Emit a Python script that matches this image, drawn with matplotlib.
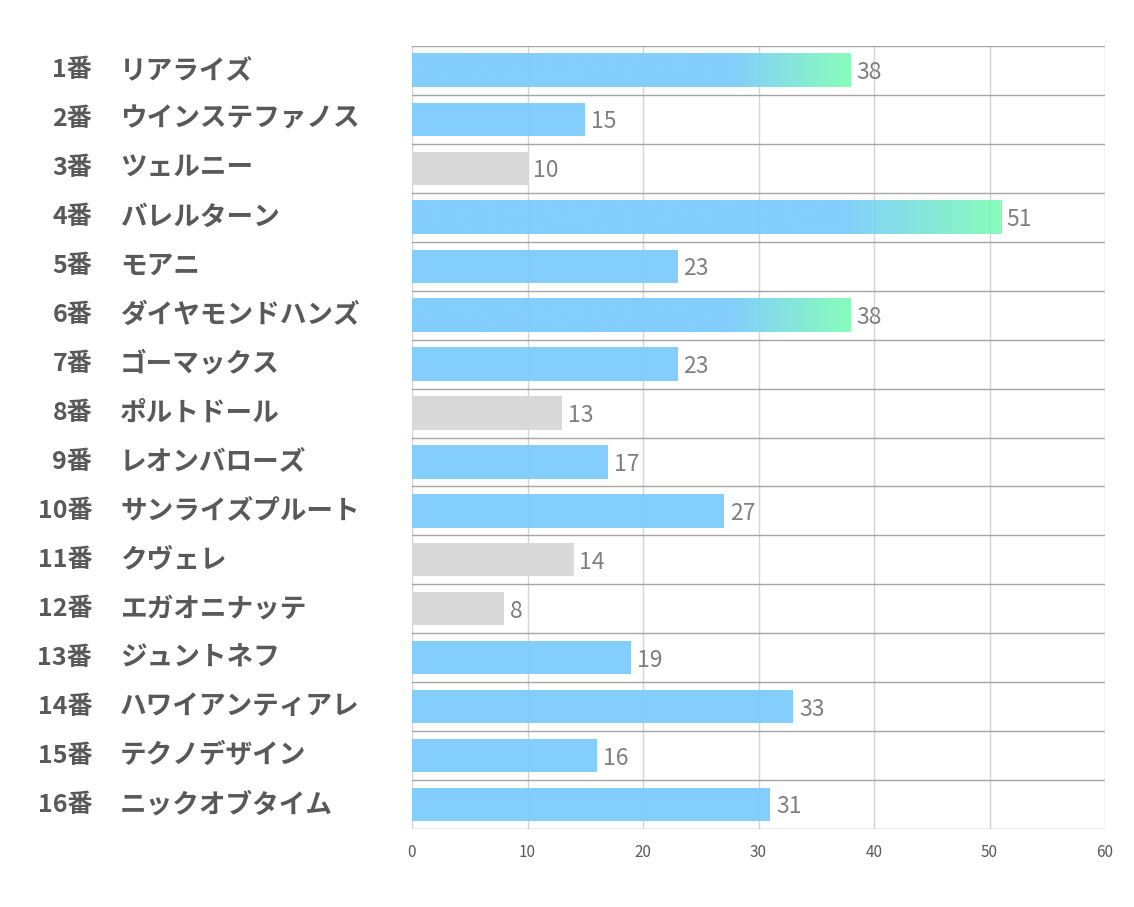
import matplotlib
matplotlib.use("Agg")
import matplotlib.pyplot as plt
import numpy as np
from matplotlib.colors import to_rgb
from matplotlib.transforms import blended_transform_factory

plt.rcParams['font.family'] = ['Noto Sans CJK JP', 'DejaVu Sans']

numbers = ["1番", "2番", "3番", "4番", "5番", "6番", "7番", "8番",
           "9番", "10番", "11番", "12番", "13番", "14番", "15番", "16番"]
names = ["リアライズ", "ウインステファノス", "ツェルニー", "バレルターン", "モアニ",
         "ダイヤモンドハンズ", "ゴーマックス", "ポルトドール", "レオンバローズ",
         "サンライズプルート", "クヴェレ", "エガオニナッテ", "ジュントネフ",
         "ハワイアンティアレ", "テクノデザイン", "ニックオブタイム"]
values = [38, 15, 10, 51, 23, 38, 23, 13, 17, 27, 14, 8, 19, 33, 16, 31]
groups = ["top", "mid", "low", "top", "mid", "top", "mid", "low",
          "mid", "mid", "low", "low", "mid", "mid", "mid", "mid"]
xticks = [0, 10, 20, 30, 40, 50, 60]

BLUE = "#7ACBFD"
GREEN = "#7FFDB6"
GRAY = "#D9D9D9"
BAR_H = 0.68

fig = plt.figure(figsize=(11.34, 9.07), dpi=100)
ax = fig.add_axes([412/1134, 1-829/907, (1105-412)/1134, (829-46)/907])

n = len(values)
ypos = np.arange(n)

for y, v, g in zip(ypos, values, groups):
    if g == "top":
        N = 256
        t = np.linspace(0, 1, N)
        w = np.clip((t-0.73)/0.27, 0, 1)
        b = np.array(to_rgb(BLUE)); gr = np.array(to_rgb(GREEN))
        cols = (1-w)[:, None]*b + w[:, None]*gr
        img = cols[None, :, :]
        ax.imshow(img, extent=(0, v, y+BAR_H/2, y-BAR_H/2), aspect='auto',
                  interpolation='bilinear', zorder=3, alpha=0.93)
    else:
        ax.barh(y, v, height=BAR_H, color=BLUE if g == "mid" else GRAY,
                zorder=3, alpha=0.93 if g == "mid" else 1.0)
    ax.text(v + 0.5, y + 0.05, str(v), va='center', ha='left', fontsize=16.5,
            color='#7F7F7F', zorder=4)

ax.set_xlim(0, 60)
ax.set_ylim(n-0.5, -0.5)
ax.set_aspect('auto')

ax.set_xticks(xticks)
ax.set_xticklabels([str(x) for x in xticks], fontsize=11, color='#595959')
ax.set_yticks([])
ax.set_yticks(np.arange(-0.5, n), minor=True)
ax.tick_params(axis='both', which='both', length=0)
ax.tick_params(axis='x', pad=11)
ax.grid(axis='x', color='#D4D4D4', linewidth=1, zorder=0)
ax.grid(axis='y', which='minor', color='#A6A6A6', linewidth=1, zorder=1)
for s in ax.spines.values():
    s.set_visible(False)

tr = blended_transform_factory(fig.transFigure, ax.transData)
for y, num, nm in zip(ypos, numbers, names):
    ax.text(92/1134, y, num, transform=tr, ha='right', va='center',
            fontsize=18, fontweight='bold', color='#595959')
    ax.text(120/1134, y, nm, transform=tr, ha='left', va='center',
            fontsize=19.2, fontweight='bold', color='#595959')

fig.savefig("out.png", dpi=100)
